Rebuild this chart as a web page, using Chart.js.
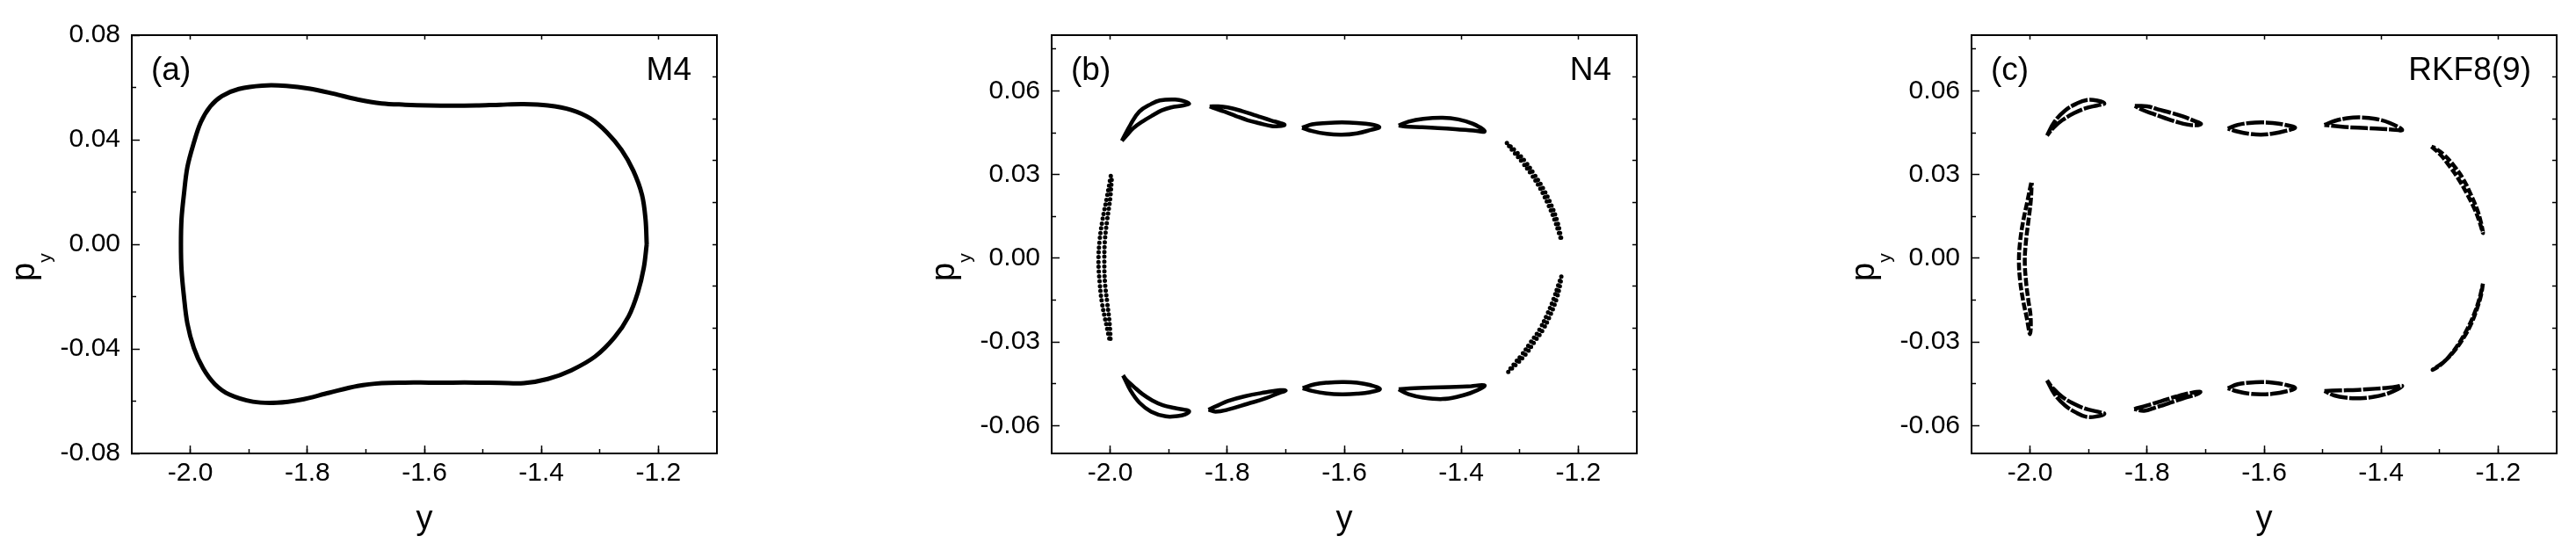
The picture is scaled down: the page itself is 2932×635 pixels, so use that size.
<!DOCTYPE html>
<html>
<head>
<meta charset="utf-8">
<script src="https://cdn.jsdelivr.net/npm/chart.js@4.4.1/dist/chart.umd.min.js"></script>
<style>
  body { margin: 0; background: #fff; width: 2932px; height: 635px; position: relative; overflow: hidden; }
  canvas { position: absolute; top: 0; }
</style>
</head>
<body>
<canvas id="chartA" width="830" height="635" style="left:0px"></canvas>
<canvas id="chartB" width="830" height="635" style="left:1047px"></canvas>
<canvas id="chartC" width="830" height="635" style="left:2094px"></canvas>
<script>
// ticks
const xTicks = [-2.0, -1.8, -1.6, -1.4, -1.2];
const xMinorTicks = [-2.0, -1.9, -1.8, -1.7, -1.6, -1.5, -1.4, -1.3, -1.2];
const aYTicks = [-0.08, -0.04, 0, 0.04, 0.08];
const aYMinorTicks = [-0.06, -0.02, 0.02, 0.06];
const bcYTicks = [-0.06, -0.03, 0, 0.03, 0.06];
const bcYMinorTicks = [-0.045, -0.015, 0.015, 0.045, 0.075];
const rightTicks = [-0.06, -0.045, -0.03, -0.015, 0, 0.015, 0.03, 0.045, 0.06];

// (a) M4 - one closed invariant curve, [y, py]
const loopA = [[-1.220,0],[-1.222,0.0096],[-1.228,0.0189],[-1.243,0.0282],[-1.263,0.0361],[-1.288,0.0428],
  [-1.316,0.0481],[-1.349,0.0514],[-1.389,0.0531],[-1.430,0.0536],[-1.470,0.0534],[-1.511,0.0531],
  [-1.552,0.0530],[-1.592,0.0531],[-1.633,0.0534],[-1.673,0.0539],[-1.714,0.0554],[-1.755,0.0576],
  [-1.795,0.0595],[-1.836,0.0606],[-1.877,0.0607],[-1.917,0.0594],[-1.946,0.0567],[-1.966,0.0527],
  [-1.982,0.0467],[-1.994,0.0388],[-2.005,0.0295],[-2.011,0.0189],[-2.015,0.0096],[-2.016,0],
  [-2.015,-0.0097],[-2.011,-0.0197],[-2.005,-0.0303],[-1.994,-0.0396],[-1.978,-0.0475],[-1.958,-0.0535],
  [-1.933,-0.0575],[-1.893,-0.0602],[-1.852,-0.0606],[-1.812,-0.0595],[-1.763,-0.0568],[-1.714,-0.0542],
  [-1.673,-0.0531],[-1.633,-0.0529],[-1.592,-0.0529],[-1.552,-0.0529],[-1.511,-0.0529],[-1.470,-0.0530],
  [-1.430,-0.0531],[-1.389,-0.0515],[-1.349,-0.0482],[-1.308,-0.0429],[-1.275,-0.0356],[-1.251,-0.0276],
  [-1.235,-0.0183],[-1.225,-0.0090],[-1.220,0]];

// (b) N4 - island chain
const b1 = [[-1.999,0.0295],[-2.006,0.0214],[-2.013,0.0139],[-2.018,0.0065],[-2.020,-0.001],[-2.018,-0.0085],[-2.014,-0.016],[-2.007,-0.0234],[-2.000,-0.0296],
  [-2.001,-0.0234],[-2.005,-0.016],[-2.009,-0.0085],[-2.010,-0.001],[-2.009,0.0065],[-2.005,0.0139],[-2.000,0.0214],[-1.997,0.0295]];
const b2 = [[-1.980,0.0421],[-1.965,0.0480],[-1.950,0.0526],[-1.930,0.0553],[-1.915,0.0566],[-1.889,0.0569],[-1.875,0.0564],[-1.865,0.0554],
  [-1.875,0.0548],[-1.896,0.0541],[-1.912,0.0530],[-1.926,0.0514],[-1.945,0.0490],[-1.960,0.0467],[-1.972,0.0440],[-1.980,0.0421]];
const b3 = [[-1.830,0.0544],[-1.815,0.0545],[-1.799,0.0541],[-1.775,0.0528],[-1.750,0.0511],[-1.725,0.0494],[-1.708,0.0484],[-1.702,0.0478],
  [-1.712,0.0474],[-1.724,0.0474],[-1.745,0.0484],[-1.765,0.0495],[-1.785,0.0510],[-1.805,0.0526],[-1.822,0.0538],[-1.830,0.0544]];
const b4 = [[-1.672,0.0468],[-1.655,0.0480],[-1.630,0.0485],[-1.604,0.0487],[-1.578,0.0485],[-1.555,0.0480],[-1.540,0.0470],
  [-1.555,0.0460],[-1.578,0.0448],[-1.604,0.0443],[-1.630,0.0446],[-1.655,0.0456],[-1.672,0.0468]];
const b5 = [[-1.507,0.0476],[-1.490,0.0490],[-1.465,0.0500],[-1.432,0.0504],[-1.405,0.0498],[-1.380,0.0482],[-1.360,0.0455],
  [-1.380,0.0458],[-1.410,0.0463],[-1.440,0.0467],[-1.470,0.0470],[-1.495,0.0472],[-1.507,0.0476]];
const b6 = [[-1.322,0.0413],[-1.305,0.0380],[-1.290,0.0345],[-1.275,0.0300],[-1.260,0.0250],[-1.247,0.0195],[-1.237,0.0140],[-1.231,0.0090],[-1.229,0.0065],
  [-1.233,0.0090],[-1.241,0.0140],[-1.252,0.0195],[-1.265,0.0250],[-1.280,0.0300],[-1.296,0.0345],[-1.310,0.0380],[-1.322,0.0413]];
const b7 = [[-1.229,-0.0066],[-1.231,-0.0095],[-1.237,-0.0145],[-1.247,-0.0200],[-1.260,-0.0255],[-1.275,-0.0300],[-1.290,-0.0345],[-1.305,-0.0378],[-1.320,-0.0408],
  [-1.310,-0.0380],[-1.296,-0.0345],[-1.281,-0.0300],[-1.266,-0.0255],[-1.253,-0.0200],[-1.242,-0.0145],[-1.234,-0.0095],[-1.229,-0.0066]];
const b8 = [[-1.978,-0.0420],[-1.965,-0.0475],[-1.950,-0.0518],[-1.930,-0.0550],[-1.905,-0.0567],[-1.885,-0.0566],[-1.872,-0.0560],[-1.865,-0.0549],
  [-1.874,-0.0543],[-1.890,-0.0537],[-1.910,-0.0527],[-1.928,-0.0510],[-1.945,-0.0487],[-1.960,-0.0460],[-1.972,-0.0437],[-1.978,-0.0420]];
const b9 = [[-1.832,-0.0543],[-1.815,-0.0527],[-1.799,-0.0512],[-1.770,-0.0495],[-1.735,-0.0481],[-1.710,-0.0473],[-1.700,-0.0475],
  [-1.710,-0.0482],[-1.735,-0.0503],[-1.765,-0.0522],[-1.799,-0.0543],[-1.820,-0.0550],[-1.832,-0.0543]];
const b10 = [[-1.671,-0.0466],[-1.650,-0.0452],[-1.628,-0.0446],[-1.604,-0.0444],[-1.578,-0.0446],[-1.555,-0.0455],[-1.539,-0.0469],
  [-1.555,-0.0480],[-1.578,-0.0486],[-1.604,-0.0488],[-1.630,-0.0485],[-1.655,-0.0476],[-1.671,-0.0466]];
const b11 = [[-1.507,-0.0470],[-1.480,-0.0466],[-1.450,-0.0464],[-1.420,-0.0462],[-1.390,-0.0460],[-1.360,-0.0456],
  [-1.380,-0.0480],[-1.405,-0.0496],[-1.432,-0.0505],[-1.465,-0.0500],[-1.490,-0.0488],[-1.507,-0.0470]];

// (c) RKF8(9) - island chain
const c1 = [[-1.998,0.0271],[-2.005,0.0200],[-2.012,0.0130],[-2.017,0.0060],[-2.019,-0.001],[-2.017,-0.008],[-2.012,-0.015],[-2.006,-0.021],[-2.000,-0.0272],
  [-1.999,-0.021],[-2.003,-0.015],[-2.007,-0.008],[-2.009,-0.001],[-2.007,0.006],[-2.003,0.013],[-1.999,0.020],[-1.997,0.0271]];
const c2 = [[-1.971,0.0440],[-1.958,0.0490],[-1.940,0.0530],[-1.920,0.0555],[-1.904,0.0567],[-1.885,0.0565],[-1.873,0.0555],
  [-1.885,0.0548],[-1.905,0.0538],[-1.925,0.0520],[-1.945,0.0495],[-1.960,0.0468],[-1.971,0.0440]];
const c3 = [[-1.821,0.0546],[-1.800,0.0545],[-1.782,0.0534],[-1.760,0.0522],[-1.739,0.0509],[-1.720,0.0493],[-1.708,0.0482],
  [-1.716,0.0477],[-1.730,0.0479],[-1.748,0.0488],[-1.770,0.0503],[-1.790,0.0518],[-1.808,0.0532],[-1.821,0.0546]];
const c4 = [[-1.662,0.0465],[-1.645,0.0478],[-1.625,0.0485],[-1.605,0.0487],[-1.585,0.0485],[-1.563,0.0478],[-1.547,0.0468],
  [-1.563,0.0457],[-1.585,0.0447],[-1.605,0.0443],[-1.625,0.0446],[-1.645,0.0454],[-1.662,0.0465]];
const c5 = [[-1.497,0.0478],[-1.480,0.0492],[-1.458,0.0502],[-1.436,0.0505],[-1.410,0.0500],[-1.385,0.0485],[-1.364,0.0460],
  [-1.385,0.0462],[-1.410,0.0465],[-1.440,0.0468],[-1.470,0.0472],[-1.497,0.0478]];
const c6 = [[-1.314,0.0400],[-1.298,0.0370],[-1.283,0.0330],[-1.268,0.0285],[-1.253,0.0230],[-1.240,0.0175],[-1.231,0.0125],[-1.226,0.0090],
  [-1.229,0.0125],[-1.236,0.0175],[-1.247,0.0230],[-1.260,0.0285],[-1.275,0.0330],[-1.292,0.0370],[-1.308,0.0395],[-1.314,0.0400]];
const c7 = [[-1.226,-0.0091],[-1.229,-0.0130],[-1.236,-0.0180],[-1.246,-0.0235],[-1.259,-0.0285],[-1.274,-0.0330],[-1.292,-0.0370],[-1.312,-0.0400],
  [-1.300,-0.0385],[-1.283,-0.0350],[-1.267,-0.0305],[-1.253,-0.0255],[-1.241,-0.0200],[-1.232,-0.0145],[-1.226,-0.0091]];
const c8 = [[-1.971,-0.0438],[-1.958,-0.0488],[-1.940,-0.0528],[-1.920,-0.0555],[-1.905,-0.0568],[-1.888,-0.0568],[-1.873,-0.0558],
  [-1.885,-0.0550],[-1.905,-0.0540],[-1.925,-0.0522],[-1.945,-0.0497],[-1.960,-0.0468],[-1.971,-0.0438]];
const c9 = [[-1.822,-0.0541],[-1.800,-0.0528],[-1.775,-0.0512],[-1.750,-0.0496],[-1.725,-0.0483],[-1.709,-0.0479],
  [-1.715,-0.0488],[-1.735,-0.0500],[-1.760,-0.0518],[-1.785,-0.0535],[-1.805,-0.0547],[-1.822,-0.0541]];
const c10 = [[-1.662,-0.0466],[-1.645,-0.0452],[-1.625,-0.0446],[-1.605,-0.0444],[-1.585,-0.0446],[-1.563,-0.0454],[-1.547,-0.0466],
  [-1.563,-0.0478],[-1.585,-0.0486],[-1.605,-0.0488],[-1.625,-0.0486],[-1.645,-0.0478],[-1.662,-0.0466]];
const c11 = [[-1.497,-0.0476],[-1.470,-0.0474],[-1.440,-0.0472],[-1.410,-0.0468],[-1.385,-0.0464],[-1.364,-0.0458],
  [-1.385,-0.0482],[-1.410,-0.0496],[-1.436,-0.0502],[-1.460,-0.0500],[-1.480,-0.0492],[-1.497,-0.0476]];

const FONT = "'Liberation Sans', Arial, sans-serif";
Chart.defaults.font.family = FONT;
Chart.defaults.color = '#000';

const toPts = arr => arr.map(([x, y]) => ({ x, y }));

function loop(arr, style) {
  return Object.assign({
    data: toPts(arr), showLine: true, pointRadius: 0, borderColor: '#000',
    borderWidth: 4.5, tension: 0.4, fill: false
  }, style || {});
}

function tickGrid(len) {
  return { drawOnChartArea: false, drawTicks: true, tickLength: -len, color: '#000', tickColor: '#000', tickWidth: 1.5 };
}
const setTicks = list => scale => { scale.ticks = list.map(v => ({ value: v })); };
const frame = { display: true, color: '#000', width: 2 };
const noBorder = { display: false };

function makeScales(yMin, yMax, yMajor, yMinor) {
  return {
    x: {
      type: 'linear', position: 'bottom', min: -2.1, max: -1.1,
      afterBuildTicks: setTicks(xTicks), afterFit: s => { s.height = 119; },
      border: frame, grid: tickGrid(9),
      ticks: { autoSkip: false, maxRotation: 0, padding: 14, font: { size: 30 }, callback: v => v.toFixed(1) },
      title: { display: true, text: 'y', font: { size: 38 }, padding: { top: 0, bottom: 21 } }
    },
    xMinor: {
      type: 'linear', position: 'bottom', weight: -1, min: -2.1, max: -1.1,
      afterBuildTicks: setTicks(xMinorTicks), afterFit: s => { s.height = 0; },
      border: noBorder, grid: tickGrid(5), ticks: { display: false }
    },
    xTop: {
      type: 'linear', position: 'top', min: -2.1, max: -1.1,
      afterBuildTicks: setTicks(xTicks), afterFit: s => { s.height = 0; },
      border: frame, grid: tickGrid(5), ticks: { display: false }
    },
    y: {
      type: 'linear', position: 'left', min: yMin, max: yMax,
      afterBuildTicks: setTicks(yMajor), afterFit: s => { s.width = 150; },
      border: frame, grid: tickGrid(9),
      ticks: { autoSkip: false, padding: 22, font: { size: 30 }, callback: v => v.toFixed(2) }
    },
    yMinor: {
      type: 'linear', position: 'left', weight: -1, min: yMin, max: yMax,
      afterBuildTicks: setTicks(yMinor), afterFit: s => { s.width = 0; },
      border: noBorder, grid: tickGrid(5), ticks: { display: false }
    },
    yRight: {
      type: 'linear', position: 'right', min: -0.075, max: 0.075,
      afterBuildTicks: setTicks(rightTicks), afterFit: s => { s.width = 0; },
      border: frame, grid: tickGrid(5), ticks: { display: false }
    }
  };
}

// panel tag, method name and the p_y axis title with its subscript
const panelText = {
  id: 'panelText',
  afterDraw(chart, args, opts) {
    const { ctx, chartArea: ca } = chart;
    ctx.save();
    ctx.fillStyle = '#000';
    ctx.textBaseline = 'alphabetic';
    ctx.font = '37px ' + FONT;
    ctx.textAlign = 'left';
    ctx.fillText(opts.tag, ca.left + 22, ca.top + 51);
    ctx.textAlign = 'right';
    ctx.fillText(opts.method, ca.right - 29, ca.top + 51);
    const cy = (ca.top + ca.bottom) / 2;
    ctx.translate(ca.left - 111, cy);
    ctx.rotate(-Math.PI / 2);
    ctx.textAlign = 'left';
    ctx.font = '38px ' + FONT;
    ctx.fillText('p', -42, 0);
    const w = ctx.measureText('p').width;
    ctx.font = '21px ' + FONT;
    ctx.fillText('y', -42 + w, 19);
    ctx.restore();
  }
};

function baseOptions(scales, tag, method) {
  return {
    responsive: false, animation: false, devicePixelRatio: 1,
    layout: { padding: { top: 29, right: 14, bottom: 0, left: 0 } },
    plugins: { legend: { display: false }, tooltip: { enabled: false }, panelText: { tag, method } },
    scales
  };
}

// (a)
new Chart(document.getElementById('chartA'), {
  type: 'scatter',
  data: { datasets: [loop(loopA, { borderWidth: 5, tension: 0.35 })] },
  options: baseOptions(makeScales(-0.08, 0.08, aYTicks, aYMinorTicks), '(a)', 'M4'),
  plugins: [panelText]
});

// (b)
const dotted = { borderDash: [0, 5.5], borderCapStyle: 'round', borderWidth: 5 };
new Chart(document.getElementById('chartB'), {
  type: 'scatter',
  data: { datasets: [
    loop(b1, dotted), loop(b2), loop(b3), loop(b4), loop(b5), loop(b6, dotted), loop(b7, dotted),
    loop(b8), loop(b9), loop(b10), loop(b11)
  ] },
  options: baseOptions(makeScales(-0.07, 0.08, bcYTicks, bcYMinorTicks), '(b)', 'N4'),
  plugins: [panelText]
});

// (c)
const dashed = { borderDash: [9, 2.5], borderWidth: 4.5 };
const dashedIsl = { borderDash: [20, 2], borderWidth: 4.5 };
new Chart(document.getElementById('chartC'), {
  type: 'scatter',
  data: { datasets: [
    loop(c1, dashed), loop(c2, dashedIsl), loop(c3, dashedIsl), loop(c4, dashedIsl), loop(c5, dashedIsl),
    loop(c6, dashed), loop(c7, dashed), loop(c8, dashedIsl), loop(c9, dashedIsl), loop(c10, dashedIsl), loop(c11, dashedIsl)
  ] },
  options: baseOptions(makeScales(-0.07, 0.08, bcYTicks, bcYMinorTicks), '(c)', 'RKF8(9)'),
  plugins: [panelText]
});
</script>
</body>
</html>
